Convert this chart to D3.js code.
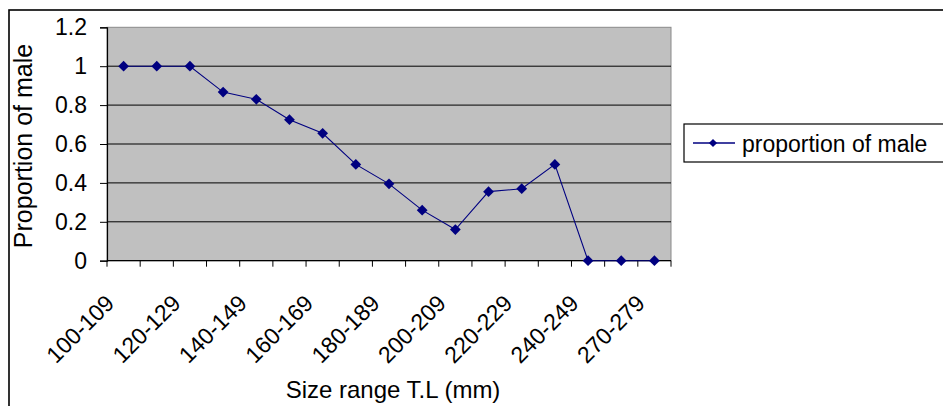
<!DOCTYPE html>
<html><head><meta charset="utf-8">
<script src="https://cdn.jsdelivr.net/npm/d3@7"></script>
<style>body{margin:0;background:#fff}svg{display:block}text{font-family:"Liberation Sans",Arial,sans-serif;fill:#000}</style>
</head><body>
<svg id="c" width="943" height="406"></svg>
<script>
const categories = ["100-109","110-119","120-129","130-139","140-149","150-159","160-169","170-179","180-189","190-199","200-209","210-219","220-229","230-239","240-249","250-259","270-279"];
const proportionMale = [1,1,1,0.867,0.83,0.725,0.655,0.495,0.395,0.26,0.16,0.355,0.37,0.495,0,0,0];
const shownLabels = ["100-109","120-129","140-149","160-169","180-189","200-209","220-229","240-249","270-279"];
const yTicks = [0,0.2,0.4,0.6,0.8,1,1.2];
const yTickLabels = ["0","0.2","0.4","0.6","0.8","1","1.2"];
const seriesName = "proportion of male";
const yTitle = "Proportion of male";
const xTitle = "Size range T.L (mm)";

const svg = d3.select("#c");
const L=107, R=671, T=27.3, B=260.7;
const x = d3.scaleBand().domain(categories).range([L,R]);
const y = d3.scaleLinear().domain([0,1.2]).range([B,T]);

// outer chart border
svg.append("rect").attr("x",9).attr("y",10).attr("width",1000).attr("height",500)
  .attr("fill","none").attr("stroke","#000").attr("stroke-width",1.6);

// plot area
svg.append("rect").attr("x",L).attr("y",T).attr("width",R-L).attr("height",B-T)
  .attr("fill","#c0c0c0").attr("stroke","#8a8a8a").attr("stroke-width",1);

// gridlines
svg.append("g").selectAll("line").data(yTicks.filter(d=>d>0 && d<1.2)).join("line")
  .attr("x1",L).attr("x2",R).attr("y1",d=>y(d)).attr("y2",d=>y(d))
  .attr("stroke","#000").attr("stroke-width",1);

// y axis
const ya = svg.append("g").attr("transform",`translate(${L},0)`)
  .call(d3.axisLeft(y).tickValues(yTicks).tickSize(7).tickPadding(13)
    .tickFormat((d,i)=>yTickLabels[i]));
ya.select(".domain").attr("stroke","#000").attr("stroke-width",1.2);
ya.selectAll(".tick line").attr("stroke","#000");
ya.selectAll(".tick text").attr("font-size",23).attr("font-family","Liberation Sans, Arial, sans-serif").attr("fill","#000");

// x axis (ticks at band boundaries)
const xa = svg.append("g").attr("transform",`translate(0,${B})`);
xa.append("line").attr("x1",L).attr("x2",R).attr("stroke","#000").attr("stroke-width",1.2);
const bounds = categories.map(c=>x(c)).concat([x(categories[categories.length-1])+x.bandwidth()]);
xa.selectAll("line.t").data(bounds).join("line").attr("class","t")
  .attr("x1",d=>d).attr("x2",d=>d).attr("y1",0).attr("y2",6).attr("stroke","#000");
xa.selectAll("text").data(shownLabels).join("text")
  .attr("transform",d=>`translate(${x(d)+x.bandwidth()/2-8},${44}) rotate(-45)`)
  .attr("text-anchor","end").attr("font-size",23).text(d=>d);

// line
const cx = d=>x(d)+x.bandwidth()/2;
svg.append("path").datum(categories.map((c,i)=>[cx(c),y(proportionMale[i])]))
  .attr("d",d3.line()).attr("fill","none").attr("stroke","#000080").attr("stroke-width",1.1);
const diamond = d3.symbol().type(d3.symbolSquare).size(58);
svg.append("g").selectAll("path").data(categories).join("path")
  .attr("transform",(c,i)=>`translate(${cx(c)},${y(proportionMale[i])}) rotate(45)`)
  .attr("d",diamond).attr("fill","#000080");

// titles
svg.append("text").attr("transform","translate(32,146) rotate(-90)")
  .attr("text-anchor","middle").attr("font-size",25).text(yTitle);
svg.append("text").attr("x",393).attr("y",398).attr("text-anchor","middle")
  .attr("font-size",24).text(xTitle);

// legend
const lg = svg.append("g");
lg.append("rect").attr("x",684).attr("y",124).attr("width",300).attr("height",38)
  .attr("fill","#fff").attr("stroke","#000").attr("stroke-width",1.2);
lg.append("line").attr("x1",693).attr("x2",735).attr("y1",143).attr("y2",143)
  .attr("stroke","#000080").attr("stroke-width",1.3);
lg.append("path").attr("transform","translate(713,143) rotate(45)").attr("d",d3.symbol().type(d3.symbolSquare).size(34)).attr("fill","#000080");
lg.append("text").attr("x",742).attr("y",151.5).attr("font-size",23).text(seriesName);
</script>
</body></html>
